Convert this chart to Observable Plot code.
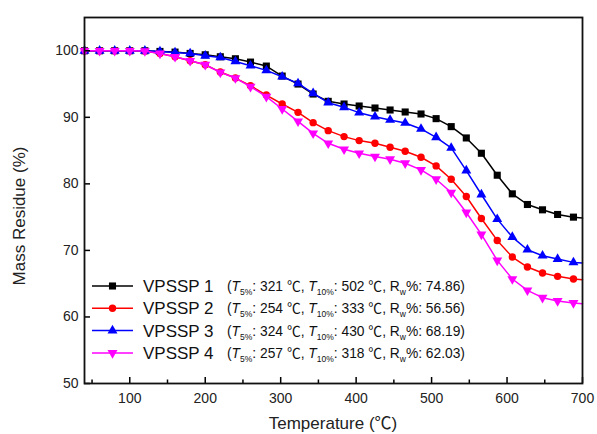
<!DOCTYPE html>
<html>
<head>
<meta charset="utf-8">
<script src="https://cdn.jsdelivr.net/npm/d3@7"></script>
<script src="https://cdn.jsdelivr.net/npm/@observablehq/plot@0.6"></script>
<style>
  html, body { margin: 0; padding: 0; background: #fff; }
  #chart { width: 597px; height: 434px; }
  svg { font-family: "Liberation Sans", Arial, "DejaVu Sans", sans-serif; }
  .cjk { font-family: "Noto Sans CJK SC", "DejaVu Sans", sans-serif; }
</style>
</head>
<body>
<div id="chart"></div>
<script>
// ---- data ----
const temps = [40,60,80,100,120,140,160,180,200,220,240,260,281,302,323,343,363,384,404,425,445,465,486,506,526,546,566,587,607,627,647,667,688,700];
const markerCount = 33; // the last point (700) is the line end only
const seriesNames = ["VPSSP 1", "VPSSP 2", "VPSSP 3", "VPSSP 4"];
const seriesColors = ["#000000", "#ff0000", "#0000ff", "#ff00ff"];
const vpssp1 = [100.0,100.0,100.0,100.0,100.0,99.9,99.8,99.6,99.4,99.1,98.8,98.3,97.7,96.2,95.0,93.5,92.4,92.0,91.7,91.4,91.1,90.8,90.5,89.8,88.6,86.9,84.6,81.3,78.5,76.9,76.1,75.4,75.0,74.86];
const vpssp2 = [100.0,100.0,100.0,100.0,99.95,99.6,99.1,98.5,97.9,96.8,95.9,94.75,93.35,92.0,90.75,89.2,88.0,87.1,86.5,86.1,85.5,84.9,84.0,82.7,80.7,78.1,74.8,71.5,69.0,67.5,66.6,66.1,65.7,65.6];
const vpssp3 = [100.0,100.0,100.0,100.0,100.0,99.9,99.75,99.6,99.25,99.0,98.4,97.75,97.05,96.1,95.1,93.6,92.2,91.5,90.7,90.1,89.6,89.15,88.25,87.0,85.4,82.0,78.4,74.7,72.0,70.1,69.2,68.7,68.2,68.1];
const vpssp4 = [100.0,100.0,100.0,100.0,99.95,99.6,99.1,98.5,97.9,96.75,95.9,94.6,93.1,91.25,89.4,87.6,86.1,85.2,84.6,84.1,83.7,83.1,82.1,80.7,78.7,75.7,72.4,68.5,65.7,64.0,62.9,62.4,62.1,62.0];
const t5 = ["321", "254", "324", "257"];
const t10 = ["502", "333", "430", "318"];
const rw = ["74.86", "56.56", "68.19", "62.03"];
const xMajorTicks = [100,200,300,400,500,600,700];
const xMinorTicks = [50,150,250,350,450,550,650];
const yTicks = [50,60,70,80,90,100];

// ---- symbols ----
const sqrt3 = Math.sqrt(3);
const triangleDown = {
  draw(ctx, size) {
    const y = Math.sqrt(size / (sqrt3 * 3));
    ctx.moveTo(0, 2 * y);
    ctx.lineTo(-sqrt3 * y, -y);
    ctx.lineTo(sqrt3 * y, -y);
    ctx.closePath();
  }
};
const symbols = [d3.symbolSquare, d3.symbolCircle, d3.symbolTriangle, triangleDown];
const radii = [4, 3.7, 3.7, 3.7];

const allValues = [vpssp1, vpssp2, vpssp3, vpssp4];
const data = [];
allValues.forEach((vals, s) => {
  vals.forEach((v, i) => data.push({series: seriesNames[s], s, i, t: temps[i], v}));
});

const W = 597, H = 434;
const mL = 84, mR = 15, mT = 17, mB = 51;
const plotW = W - mL - mR, plotH = H - mT - mB;

const marks = [];
seriesNames.forEach((name, s) => {
  const d = data.filter(r => r.s === s);
  marks.push(Plot.line(d, {x: "t", y: "v", stroke: seriesColors[s], strokeWidth: 1.5}));
  marks.push(Plot.dot(d.filter(r => r.i < markerCount), {x: "t", y: "v", fill: seriesColors[s], stroke: "none", r: radii[s], symbol: symbols[s]}));
});

const chart = Plot.plot({
  width: W, height: H,
  marginLeft: mL, marginRight: mR, marginTop: mT, marginBottom: mB,
  style: {fontFamily: '"Liberation Sans", Arial, "DejaVu Sans", sans-serif', background: "#fff", overflow: "visible"},
  x: {domain: [40, 700]},
  y: {domain: [50, 105]},
  marks: [
    ...marks,
    Plot.tickX(xMajorTicks, {x: d => d, stroke: "#000", strokeWidth: 1.5, insetTop: plotH - 6}),
    Plot.tickX(xMinorTicks, {x: d => d, stroke: "#000", strokeWidth: 1.5, insetTop: plotH - 3.5}),
    Plot.tickY(yTicks, {y: d => d, stroke: "#000", strokeWidth: 1.5, insetRight: plotW - 6}),
    Plot.axisX({ticks: xMajorTicks, tickSize: 0, tickPadding: 10, fontSize: 14, label: null, fill: "#222"}),
    Plot.axisY({ticks: yTicks, tickSize: 0, tickPadding: 6, fontSize: 14, label: null, fill: "#222"}),
    Plot.frame({stroke: "#111", strokeWidth: 1.8})
  ]
});

const svg = d3.select(chart);
// axis titles
const xt = svg.append("text")
  .attr("x", mL + plotW / 2).attr("y", 429)
  .attr("text-anchor", "middle").attr("font-size", 17).attr("fill", "#222");
xt.append("tspan").text("Temperature (");
xt.append("tspan").attr("class", "cjk").text("℃");
xt.append("tspan").text(")");
svg.append("text")
  .attr("transform", `translate(25, ${mT + plotH / 2 + 16}) rotate(-90)`)
  .attr("text-anchor", "middle").attr("font-size", 17).attr("fill", "#222")
  .text("Mass Residue (%)");

// legend
const lg = svg.append("g").attr("text-anchor", "start");
seriesNames.forEach((name, s) => {
  const y = 286 + s * 22.3;
  const row = lg.append("g").attr("transform", `translate(0, ${y})`);
  row.append("line").attr("x1", 92).attr("x2", 133).attr("y1", 0).attr("y2", 0)
    .attr("stroke", seriesColors[s]).attr("stroke-width", 1.5);
  row.append("path").attr("transform", "translate(112.5, 0)")
    .attr("d", d3.symbol(symbols[s], Math.PI * radii[s] * radii[s])())
    .attr("fill", seriesColors[s]);
  row.append("text").attr("x", 143).attr("y", 6).attr("text-anchor", "start")
    .attr("font-size", 17).attr("fill", "#111").text(name);
  const t = row.append("text").attr("x", 227).attr("y", 5).attr("text-anchor", "start")
    .attr("font-size", 13.8).attr("fill", "#111");
  t.append("tspan").text("(");
  t.append("tspan").attr("font-style", "italic").text("T");
  t.append("tspan").attr("font-size", 8.5).attr("dy", 4).text("5%");
  t.append("tspan").attr("dy", -4).text(`: ${t5[s]} `);
  t.append("tspan").attr("class", "cjk").text("℃");
  t.append("tspan").text(", ");
  t.append("tspan").attr("font-style", "italic").text("T");
  t.append("tspan").attr("font-size", 8.5).attr("dy", 4).text("10%");
  t.append("tspan").attr("dy", -4).text(`: ${t10[s]} `);
  t.append("tspan").attr("class", "cjk").text("℃");
  t.append("tspan").text(", R");
  t.append("tspan").attr("font-size", 8.5).attr("dy", 4).text("w");
  t.append("tspan").attr("dy", -4).text(`%: ${rw[s]})`);
});

document.getElementById("chart").appendChild(chart);
</script>
</body>
</html>
